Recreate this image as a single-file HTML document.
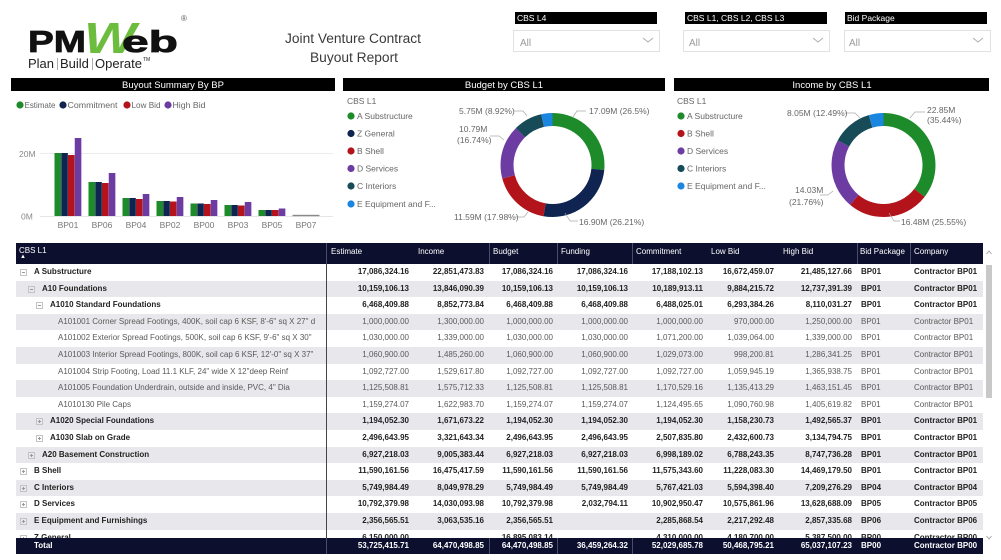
<!DOCTYPE html>
<html><head><meta charset="utf-8">
<style>
*{margin:0;padding:0;box-sizing:border-box}
body{width:1001px;height:560px;overflow:hidden;background:#fff;font-family:"Liberation Sans",sans-serif;position:relative}
.abs{position:absolute}
.th{position:absolute;left:16px;top:243px;width:967px;height:21px;background:#0c0f2e;color:#fff;font-size:8px}
.th span{position:absolute;top:4px;white-space:nowrap}
.th i{position:absolute;top:0;width:1px;height:21px;background:#4a4d66}
.tb{position:absolute;left:16px;top:264px;width:967px;height:274px;overflow:hidden}
.r{position:relative;height:16.6px;line-height:16.6px;font-size:8px;color:#5a5a5a;background:#fff}
.r.g{background:#e8e8ec}
.r.b{font-weight:bold;color:#222}
.r span{position:absolute;top:0;white-space:nowrap}
.c1{right:574px}.c2{right:499px}.c3{right:430px}.c4{right:355px}.c5{right:280px}.c6{right:209px}.c7{right:131px}.c8{left:845px}.c9{left:898px}
.l0{left:18px}.l1{left:26px}.l2{left:34px}.l3{left:42px}
.ic{position:absolute;top:5px;width:7px;height:7px;border:1px solid #c4c4c4;background:transparent}
.ic::before{content:"";position:absolute;left:1px;top:2px;width:3px;height:1px;background:#9a9a9a}
.ic.p::after{content:"";position:absolute;left:2px;top:1px;width:1px;height:3px;background:#9a9a9a}
.i0{left:4px}.i1{left:12px}.i2{left:20px}
.tot{position:absolute;left:16px;top:538px;width:967px;height:16px;background:#0c0f2e;color:#fff;font-size:8px;font-weight:bold;line-height:16px}
.tot span{position:absolute;top:0;white-space:nowrap}
.tot i{position:absolute;top:0;width:1px;height:16px;background:#4a4d66}
</style></head><body>

<svg class="abs" style="left:0;top:0" width="1001" height="560" viewBox="0 0 1001 560" font-family="Liberation Sans, sans-serif">
<!-- Logo -->
<text x="28" y="52" font-size="31" font-weight="bold" fill="#111" stroke="#111" stroke-width="0.8" textLength="58" lengthAdjust="spacingAndGlyphs">PM</text>
<text x="84" y="53" font-size="44" font-weight="bold" font-style="italic" fill="#6cbd3e" textLength="52" lengthAdjust="spacingAndGlyphs">W</text>
<text x="122" y="52" font-size="31" font-weight="bold" fill="#111" stroke="#111" stroke-width="0.8" textLength="56" lengthAdjust="spacingAndGlyphs">eb</text>
<text x="181" y="21" font-size="8" fill="#555">®</text>
<text x="28" y="68" font-size="13" fill="#222">Plan</text>
<rect x="57" y="58" width="0.8" height="12" fill="#999"/>
<text x="60" y="68" font-size="13" fill="#222">Build</text>
<rect x="92" y="58" width="0.8" height="12" fill="#999"/>
<text x="95" y="68" font-size="13" fill="#222">Operate</text>
<text x="143" y="61" font-size="5" fill="#222">TM</text>

<!-- Title -->
<text x="353" y="43" font-size="13.5" fill="#3a3a3a" text-anchor="middle" textLength="136" lengthAdjust="spacingAndGlyphs">Joint Venture Contract</text>
<text x="354" y="62" font-size="13.5" fill="#3a3a3a" text-anchor="middle" textLength="88" lengthAdjust="spacingAndGlyphs">Buyout Report</text>

<!-- Slicers -->
<rect x="515" y="12" width="142" height="12" fill="#000"/>
<text x="517" y="21" font-size="8.5" fill="#fff">CBS L4</text>
<rect x="513.5" y="30.5" width="146" height="21" fill="#fff" stroke="#e2e2e2"/>
<text x="520" y="46" font-size="10" fill="#9a9a9a">All</text>
<polyline points="643,38 648,42 653,38" fill="none" stroke="#aaa" stroke-width="0.9"/>

<rect x="685" y="12" width="142" height="12" fill="#000"/>
<text x="687" y="21" font-size="8.5" fill="#fff">CBS L1, CBS L2, CBS L3</text>
<rect x="683.5" y="30.5" width="146" height="21" fill="#fff" stroke="#e2e2e2"/>
<text x="689" y="46" font-size="10" fill="#9a9a9a">All</text>
<polyline points="813,38 818,42 823,38" fill="none" stroke="#aaa" stroke-width="0.9"/>

<rect x="845" y="12" width="142" height="12" fill="#000"/>
<text x="847" y="21" font-size="8.5" fill="#fff">Bid Package</text>
<rect x="844.5" y="30.5" width="146" height="21" fill="#fff" stroke="#e2e2e2"/>
<text x="849" y="46" font-size="10" fill="#9a9a9a">All</text>
<polyline points="973,38 978,42 983,38" fill="none" stroke="#aaa" stroke-width="0.9"/>

<!-- Panel headers -->
<rect x="11" y="78" width="324" height="13" fill="#000"/>
<text x="173" y="88" font-size="9.5" fill="#fff" text-anchor="middle">Buyout Summary By BP</text>
<rect x="343" y="78" width="322" height="13" fill="#000"/>
<text x="504" y="88" font-size="9.5" fill="#fff" text-anchor="middle">Budget by CBS L1</text>
<rect x="674" y="78" width="315" height="13" fill="#000"/>
<text x="832" y="88" font-size="9.5" fill="#fff" text-anchor="middle">Income by CBS L1</text>

<!-- Bar chart legend -->
<circle cx="20" cy="105" r="3.6" fill="#1e8b2b"/>
<text x="24.5" y="108" font-size="8.5" fill="#666" textLength="31" lengthAdjust="spacingAndGlyphs">Estimate</text>
<circle cx="63" cy="105" r="3.6" fill="#0f2451"/>
<text x="67.5" y="108" font-size="8.5" fill="#666" textLength="50" lengthAdjust="spacingAndGlyphs">Commitment</text>
<circle cx="127" cy="105" r="3.6" fill="#b3141c"/>
<text x="131.5" y="108" font-size="8.5" fill="#666" textLength="29" lengthAdjust="spacingAndGlyphs">Low Bid</text>
<circle cx="168" cy="105" r="3.6" fill="#6d3ca3"/>
<text x="172.5" y="108" font-size="8.5" fill="#666" textLength="33" lengthAdjust="spacingAndGlyphs">High Bid</text>

<!-- Bar chart axes -->
<line x1="40" y1="153.5" x2="333" y2="153.5" stroke="#ececec" stroke-width="1"/>
<line x1="40" y1="216.5" x2="333" y2="216.5" stroke="#e6e6e6" stroke-width="1"/>
<text x="19" y="157" font-size="8.5" fill="#888">20M</text>
<text x="21" y="219.5" font-size="8.5" fill="#888">0M</text>

<g>
<rect x="54.5" y="153" width="6.6" height="63" fill="#1e8b2b"/>
<rect x="61.25" y="153" width="6.6" height="63" fill="#0f2451"/>
<rect x="68" y="155" width="6.6" height="61" fill="#b3141c"/>
<rect x="74.75" y="138" width="6.6" height="78" fill="#6d3ca3"/>

<rect x="88.5" y="182" width="6.6" height="34" fill="#1e8b2b"/>
<rect x="95.25" y="182" width="6.6" height="34" fill="#0f2451"/>
<rect x="102" y="183" width="6.6" height="33" fill="#b3141c"/>
<rect x="108.75" y="173" width="6.6" height="43" fill="#6d3ca3"/>

<rect x="122.5" y="198" width="6.6" height="18" fill="#1e8b2b"/>
<rect x="129.25" y="198" width="6.6" height="18" fill="#0f2451"/>
<rect x="136" y="199" width="6.6" height="17" fill="#b3141c"/>
<rect x="142.75" y="194" width="6.6" height="22" fill="#6d3ca3"/>

<rect x="156.5" y="201" width="6.6" height="15" fill="#1e8b2b"/>
<rect x="163.25" y="201" width="6.6" height="15" fill="#0f2451"/>
<rect x="170" y="201.5" width="6.6" height="14.5" fill="#b3141c"/>
<rect x="176.75" y="197" width="6.6" height="19" fill="#6d3ca3"/>

<rect x="190.5" y="203.5" width="6.6" height="12.5" fill="#1e8b2b"/>
<rect x="197.25" y="203.5" width="6.6" height="12.5" fill="#0f2451"/>
<rect x="204" y="204" width="6.6" height="12" fill="#b3141c"/>
<rect x="210.75" y="200" width="6.6" height="16" fill="#6d3ca3"/>

<rect x="224.5" y="205" width="6.6" height="11" fill="#1e8b2b"/>
<rect x="231.25" y="205" width="6.6" height="11" fill="#0f2451"/>
<rect x="238" y="205.5" width="6.6" height="10.5" fill="#b3141c"/>
<rect x="244.75" y="202" width="6.6" height="14" fill="#6d3ca3"/>

<rect x="258.5" y="210" width="6.6" height="6" fill="#1e8b2b"/>
<rect x="265.25" y="210" width="6.6" height="6" fill="#0f2451"/>
<rect x="272" y="210" width="6.6" height="6" fill="#b3141c"/>
<rect x="278.75" y="208.5" width="6.6" height="7.5" fill="#6d3ca3"/>

<rect x="292.5" y="214.8" width="27" height="1.4" fill="#8a8a8a"/>
</g>
<g font-size="8.5" fill="#777" text-anchor="middle">
<text x="68" y="228">BP01</text>
<text x="102" y="228">BP06</text>
<text x="136" y="228">BP04</text>
<text x="170" y="228">BP02</text>
<text x="204" y="228">BP00</text>
<text x="238" y="228">BP03</text>
<text x="272" y="228">BP05</text>
<text x="306" y="228">BP07</text>
</g>

<!-- Budget donut legend -->
<g font-size="8.5" fill="#666">
<text x="347" y="104">CBS L1</text>
<circle cx="351" cy="116" r="3.6" fill="#1e8b2b"/><text x="357" y="119">A Substructure</text>
<circle cx="351" cy="133.5" r="3.6" fill="#0f2451"/><text x="357" y="136.5">Z General</text>
<circle cx="351" cy="151" r="3.6" fill="#b3141c"/><text x="357" y="154">B Shell</text>
<circle cx="351" cy="168.5" r="3.6" fill="#6d3ca3"/><text x="357" y="171.5">D Services</text>
<circle cx="351" cy="186" r="3.6" fill="#174b57"/><text x="357" y="189">C Interiors</text>
<circle cx="351" cy="204" r="3.6" fill="#1a86e0"/><text x="357" y="207">E Equipment and F...</text>
</g>
<!-- Budget donut -->
<g transform="rotate(-90 552.5 165)" fill="none" stroke-width="13">
<circle cx="552.5" cy="165" r="45.5" stroke="#1e8b2b" stroke-dasharray="75.76 300" stroke-dashoffset="0"/>
<circle cx="552.5" cy="165" r="45.5" stroke="#0f2451" stroke-dasharray="74.93 300" stroke-dashoffset="-75.76"/>
<circle cx="552.5" cy="165" r="45.5" stroke="#b3141c" stroke-dasharray="51.40 300" stroke-dashoffset="-150.69"/>
<circle cx="552.5" cy="165" r="45.5" stroke="#6d3ca3" stroke-dasharray="47.86 300" stroke-dashoffset="-202.09"/>
<circle cx="552.5" cy="165" r="45.5" stroke="#174b57" stroke-dasharray="25.50 300" stroke-dashoffset="-249.95"/>
<circle cx="552.5" cy="165" r="45.5" stroke="#1a86e0" stroke-dasharray="10.43 300" stroke-dashoffset="-275.45"/>
</g>
<g fill="none" stroke="#aaa" stroke-width="0.7">
<polyline points="573,117 577,111 586,111"/>
<polyline points="514,111 523,111 527,116"/>
<polyline points="490,136 499,136 504,140"/>
<polyline points="515,217 524,217 528,212"/>
<polyline points="565,213 570,221 578,221"/>
</g>
<g font-size="8.5" fill="#666">
<text x="589" y="114">17.09M (26.5%)</text>
<text x="459" y="114">5.75M (8.92%)</text>
<text x="459" y="132">10.79M</text>
<text x="457" y="143">(16.74%)</text>
<text x="454" y="220">11.59M (17.98%)</text>
<text x="579" y="225">16.90M (26.21%)</text>
</g>

<!-- Income donut legend -->
<g font-size="8.5" fill="#666">
<text x="677" y="104">CBS L1</text>
<circle cx="681" cy="116" r="3.6" fill="#1e8b2b"/><text x="687" y="119">A Substructure</text>
<circle cx="681" cy="133.5" r="3.6" fill="#b3141c"/><text x="687" y="136.5">B Shell</text>
<circle cx="681" cy="151" r="3.6" fill="#6d3ca3"/><text x="687" y="154">D Services</text>
<circle cx="681" cy="168.5" r="3.6" fill="#174b57"/><text x="687" y="171.5">C Interiors</text>
<circle cx="681" cy="186" r="3.6" fill="#1a86e0"/><text x="687" y="189">E Equipment and F...</text>
</g>
<g transform="rotate(-90 883.5 165)" fill="none" stroke-width="13">
<circle cx="883.5" cy="165" r="45.5" stroke="#1e8b2b" stroke-dasharray="101.32 300" stroke-dashoffset="0"/>
<circle cx="883.5" cy="165" r="45.5" stroke="#b3141c" stroke-dasharray="73.04 300" stroke-dashoffset="-101.32"/>
<circle cx="883.5" cy="165" r="45.5" stroke="#6d3ca3" stroke-dasharray="62.21 300" stroke-dashoffset="-174.36"/>
<circle cx="883.5" cy="165" r="45.5" stroke="#174b57" stroke-dasharray="35.71 300" stroke-dashoffset="-236.57"/>
<circle cx="883.5" cy="165" r="45.5" stroke="#1a86e0" stroke-dasharray="13.61 300" stroke-dashoffset="-272.28"/>
</g>
<g fill="none" stroke="#aaa" stroke-width="0.7">
<polyline points="910,118 915,112 925,112"/>
<polyline points="845,113 855,113 860,118"/>
<polyline points="820,195 828,195 833,191"/>
<polyline points="889,213 894,221 900,221"/>
</g>
<g font-size="8.5" fill="#666">
<text x="927" y="113">22.85M</text>
<text x="927" y="123">(35.44%)</text>
<text x="787" y="116">8.05M (12.49%)</text>
<text x="795" y="193">14.03M</text>
<text x="789" y="205">(21.76%)</text>
<text x="901" y="225">16.48M (25.55%)</text>
</g>

<!-- scrollbar -->
<polyline points="986.5,254 989,251 991.5,254" fill="none" stroke="#999" stroke-width="0.8"/>
<rect x="986" y="265" width="6" height="133" fill="#c8c8c8"/>
<polyline points="986.5,536 989,539 991.5,536" fill="none" stroke="#999" stroke-width="0.8"/>
</svg>

<!-- Table header -->
<div class="th">
<span style="left:3px;top:3px">CBS L1</span>
<span style="left:4px;top:11px;font-size:6px">&#9650;</span>
<i style="left:310px"></i><i style="left:473px"></i><i style="left:541px"></i><i style="left:616px"></i><i style="left:841px"></i><i style="left:894px"></i>
<span style="left:315px">Estimate</span>
<span style="left:402px">Income</span>
<span style="left:477px">Budget</span>
<span style="left:545px">Funding</span>
<span style="left:620px">Commitment</span>
<span style="left:695px">Low Bid</span>
<span style="left:767px">High Bid</span>
<span style="left:844px">Bid Package</span>
<span style="left:898px">Company</span>
</div>

<div class="tb">
<div class="r b"><i class="ic i0"></i><span class="l0">A Substructure</span><span class="c1">17,086,324.16</span><span class="c2">22,851,473.83</span><span class="c3">17,086,324.16</span><span class="c4">17,086,324.16</span><span class="c5">17,188,102.13</span><span class="c6">16,672,459.07</span><span class="c7">21,485,127.66</span><span class="c8">BP01</span><span class="c9">Contractor BP01</span></div>
<div class="r b g"><i class="ic i1"></i><span class="l1">A10 Foundations</span><span class="c1">10,159,106.13</span><span class="c2">13,846,090.39</span><span class="c3">10,159,106.13</span><span class="c4">10,159,106.13</span><span class="c5">10,189,913.11</span><span class="c6">9,884,215.72</span><span class="c7">12,737,391.39</span><span class="c8">BP01</span><span class="c9">Contractor BP01</span></div>
<div class="r b"><i class="ic i2"></i><span class="l2">A1010 Standard Foundations</span><span class="c1">6,468,409.88</span><span class="c2">8,852,773.84</span><span class="c3">6,468,409.88</span><span class="c4">6,468,409.88</span><span class="c5">6,488,025.01</span><span class="c6">6,293,384.26</span><span class="c7">8,110,031.27</span><span class="c8">BP01</span><span class="c9">Contractor BP01</span></div>
<div class="r g"><span class="l3">A101001 Corner Spread Footings, 400K, soil cap 6 KSF, 8'-6" sq X 27" d</span><span class="c1">1,000,000.00</span><span class="c2">1,300,000.00</span><span class="c3">1,000,000.00</span><span class="c4">1,000,000.00</span><span class="c5">1,000,000.00</span><span class="c6">970,000.00</span><span class="c7">1,250,000.00</span><span class="c8">BP01</span><span class="c9">Contractor BP01</span></div>
<div class="r"><span class="l3">A101002 Exterior Spread Footings, 500K, soil cap 6 KSF, 9'-6" sq X 30"</span><span class="c1">1,030,000.00</span><span class="c2">1,339,000.00</span><span class="c3">1,030,000.00</span><span class="c4">1,030,000.00</span><span class="c5">1,071,200.00</span><span class="c6">1,039,064.00</span><span class="c7">1,339,000.00</span><span class="c8">BP01</span><span class="c9">Contractor BP01</span></div>
<div class="r g"><span class="l3">A101003 Interior Spread Footings, 800K, soil cap 6 KSF, 12'-0" sq X 37"</span><span class="c1">1,060,900.00</span><span class="c2">1,485,260.00</span><span class="c3">1,060,900.00</span><span class="c4">1,060,900.00</span><span class="c5">1,029,073.00</span><span class="c6">998,200.81</span><span class="c7">1,286,341.25</span><span class="c8">BP01</span><span class="c9">Contractor BP01</span></div>
<div class="r"><span class="l3">A101004 Strip Footing, Load 11.1 KLF, 24" wide X 12"deep Reinf</span><span class="c1">1,092,727.00</span><span class="c2">1,529,617.80</span><span class="c3">1,092,727.00</span><span class="c4">1,092,727.00</span><span class="c5">1,092,727.00</span><span class="c6">1,059,945.19</span><span class="c7">1,365,938.75</span><span class="c8">BP01</span><span class="c9">Contractor BP01</span></div>
<div class="r g"><span class="l3">A101005 Foundation Underdrain, outside and inside, PVC, 4" Dia</span><span class="c1">1,125,508.81</span><span class="c2">1,575,712.33</span><span class="c3">1,125,508.81</span><span class="c4">1,125,508.81</span><span class="c5">1,170,529.16</span><span class="c6">1,135,413.29</span><span class="c7">1,463,151.45</span><span class="c8">BP01</span><span class="c9">Contractor BP01</span></div>
<div class="r"><span class="l3">A1010130 Pile Caps</span><span class="c1">1,159,274.07</span><span class="c2">1,622,983.70</span><span class="c3">1,159,274.07</span><span class="c4">1,159,274.07</span><span class="c5">1,124,495.65</span><span class="c6">1,090,760.98</span><span class="c7">1,405,619.82</span><span class="c8">BP01</span><span class="c9">Contractor BP01</span></div>
<div class="r b g"><i class="ic p i2"></i><span class="l2">A1020 Special Foundations</span><span class="c1">1,194,052.30</span><span class="c2">1,671,673.22</span><span class="c3">1,194,052.30</span><span class="c4">1,194,052.30</span><span class="c5">1,194,052.30</span><span class="c6">1,158,230.73</span><span class="c7">1,492,565.37</span><span class="c8">BP01</span><span class="c9">Contractor BP01</span></div>
<div class="r b"><i class="ic p i2"></i><span class="l2">A1030 Slab on Grade</span><span class="c1">2,496,643.95</span><span class="c2">3,321,643.34</span><span class="c3">2,496,643.95</span><span class="c4">2,496,643.95</span><span class="c5">2,507,835.80</span><span class="c6">2,432,600.73</span><span class="c7">3,134,794.75</span><span class="c8">BP01</span><span class="c9">Contractor BP01</span></div>
<div class="r b g"><i class="ic p i1"></i><span class="l1">A20 Basement Construction</span><span class="c1">6,927,218.03</span><span class="c2">9,005,383.44</span><span class="c3">6,927,218.03</span><span class="c4">6,927,218.03</span><span class="c5">6,998,189.02</span><span class="c6">6,788,243.35</span><span class="c7">8,747,736.28</span><span class="c8">BP01</span><span class="c9">Contractor BP01</span></div>
<div class="r b"><i class="ic p i0"></i><span class="l0">B Shell</span><span class="c1">11,590,161.56</span><span class="c2">16,475,417.59</span><span class="c3">11,590,161.56</span><span class="c4">11,590,161.56</span><span class="c5">11,575,343.60</span><span class="c6">11,228,083.30</span><span class="c7">14,469,179.50</span><span class="c8">BP01</span><span class="c9">Contractor BP01</span></div>
<div class="r b g"><i class="ic p i0"></i><span class="l0">C Interiors</span><span class="c1">5,749,984.49</span><span class="c2">8,049,978.29</span><span class="c3">5,749,984.49</span><span class="c4">5,749,984.49</span><span class="c5">5,767,421.03</span><span class="c6">5,594,398.40</span><span class="c7">7,209,276.29</span><span class="c8">BP04</span><span class="c9">Contractor BP04</span></div>
<div class="r b"><i class="ic p i0"></i><span class="l0">D Services</span><span class="c1">10,792,379.98</span><span class="c2">14,030,093.98</span><span class="c3">10,792,379.98</span><span class="c4">2,032,794.11</span><span class="c5">10,902,950.47</span><span class="c6">10,575,861.96</span><span class="c7">13,628,688.09</span><span class="c8">BP05</span><span class="c9">Contractor BP05</span></div>
<div class="r b g"><i class="ic p i0"></i><span class="l0">E Equipment and Furnishings</span><span class="c1">2,356,565.51</span><span class="c2">3,063,535.16</span><span class="c3">2,356,565.51</span><span class="c5">2,285,868.54</span><span class="c6">2,217,292.48</span><span class="c7">2,857,335.68</span><span class="c8">BP06</span><span class="c9">Contractor BP06</span></div>
<div class="r b"><i class="ic p i0"></i><span class="l0">Z General</span><span class="c1">6,150,000.00</span><span class="c3">16,895,083.14</span><span class="c5">4,310,000.00</span><span class="c6">4,180,700.00</span><span class="c7">5,387,500.00</span><span class="c8">BP00</span><span class="c9">Contractor BP00</span></div>
</div>
<div class="abs" style="left:326px;top:264px;width:1px;height:274px;background:#444"></div>

<div class="tot">
<i style="left:310px"></i><i style="left:473px"></i><i style="left:541px"></i><i style="left:616px"></i>
<span style="left:18px">Total</span>
<span class="c1">53,725,415.71</span><span class="c2">64,470,498.85</span><span class="c3">64,470,498.85</span><span class="c4">36,459,264.32</span><span class="c5">52,029,685.78</span><span class="c6">50,468,795.21</span><span class="c7">65,037,107.23</span><span class="c8">BP00</span><span class="c9">Contractor BP00</span>
</div>
</body></html>
